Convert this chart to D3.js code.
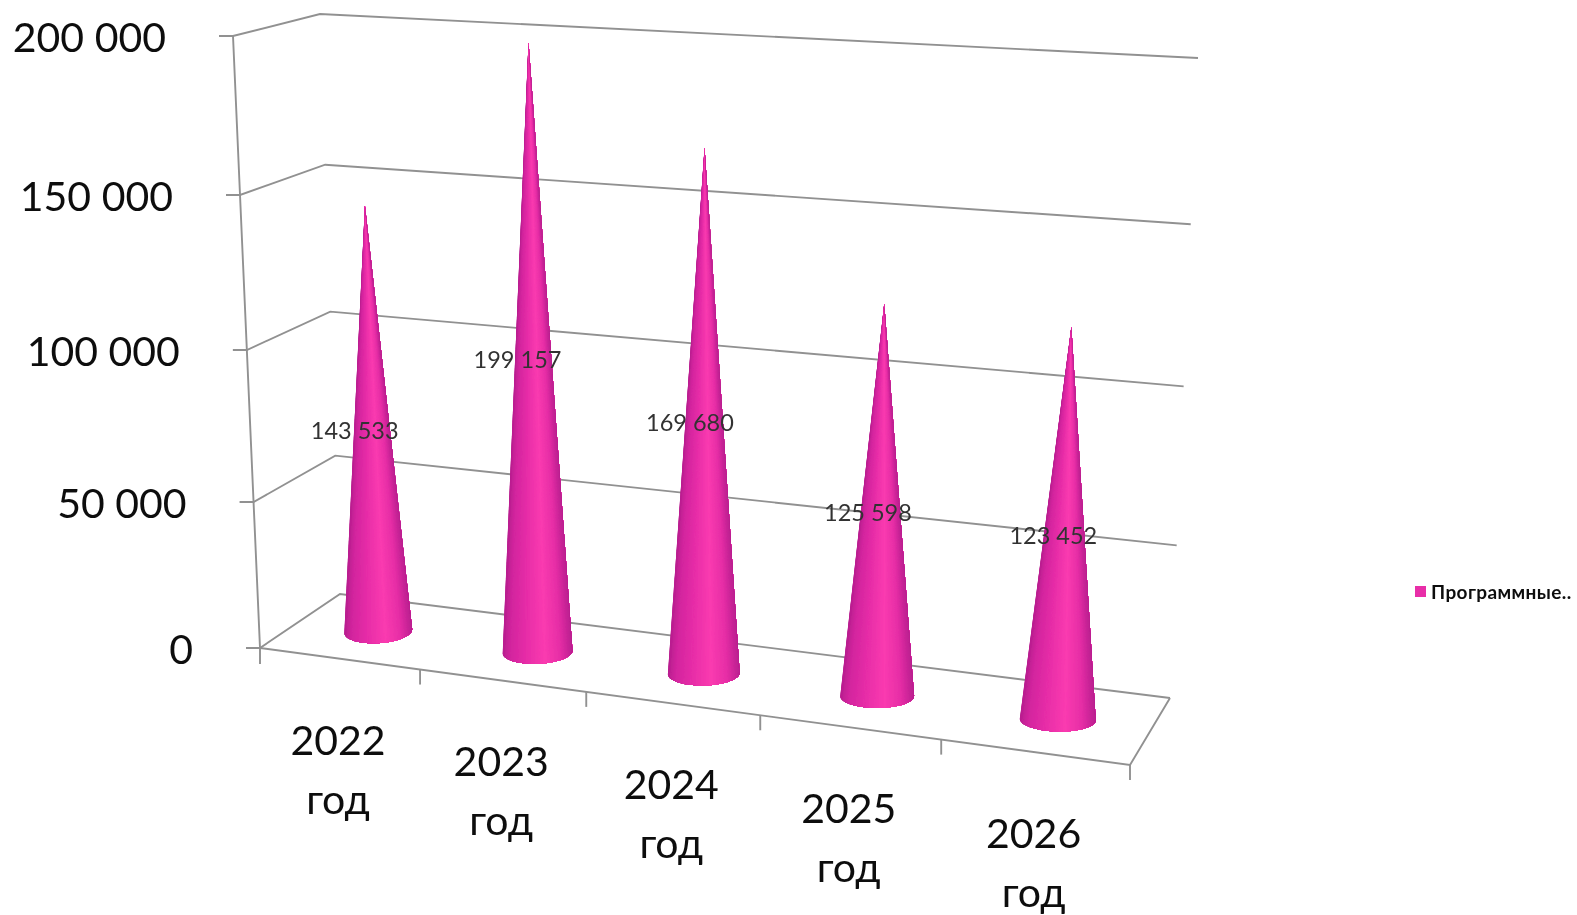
<!DOCTYPE html>
<html>
<head>
<meta charset="utf-8">
<script src="https://cdn.jsdelivr.net/npm/d3@7"></script>
<style>
  html, body { margin: 0; padding: 0; background: #fff; overflow: hidden; }
  text { font-family: Lato, "Noto Sans", sans-serif; }
</style>
</head>
<body>
<div id="chart"></div>
<script>
// Chart data
var years = ["2022", "2023", "2024", "2025", "2026"];
var yearWord = "год";
var values = [143533, 199157, 169680, 125598, 123452];
var valueTicks = [0, 50000, 100000, 150000, 200000];
var legendLabel = "Программные..";

var svgWidth = 1577;
var svgHeight = 915;

var root = d3.select("#chart")
  .append("svg")
  .attr("width", svgWidth)
  .attr("height", svgHeight);

// the source picture is a soft upscaled bitmap
root.append("filter")
  .attr("id", "soft")
  .attr("filterUnits", "userSpaceOnUse")
  .attr("x", 0).attr("y", 0)
  .attr("width", svgWidth).attr("height", svgHeight)
  .append("feGaussianBlur")
  .attr("stdDeviation", 0.6);

var svg = root.append("g").attr("filter", "url(#soft)");

// Box corners of the 3D plot: front/back, left/right, bottom/top
var box = {
  flb: [260, 648], flt: [233, 36],
  frb: [1130, 765], frt: [1158, 96],
  blb: [340, 594], blt: [320, 14],
  brb: [1170, 698], brt: [1198, 58]
};

// the chart is in perspective so neither scale is evenly spaced
var heightScale = d3.scaleLinear()
  .domain(valueTicks)
  .range([0, 0.2385, 0.4869, 0.7402, 1]);

var widthScale = d3.scaleLinear()
  .domain(d3.range(years.length + 1))
  .range([0, 0.184, 0.375, 0.575, 0.783, 1]);

function mix(a, b, t) {
  return [a[0] + (b[0] - a[0]) * t, a[1] + (b[1] - a[1]) * t];
}

// u along the width (0-1), d into the depth (0-1), value up the height
function project(u, d, value) {
  var t = heightScale(value);
  var bottom = mix(mix(box.flb, box.frb, u), mix(box.blb, box.brb, u), d);
  var top = mix(mix(box.flt, box.frt, u), mix(box.blt, box.brt, u), d);
  return mix(bottom, top, t);
}

function midU(i) {
  return (widthScale(i) + widthScale(i + 1)) / 2;
}

var format = d3.formatLocale({ decimal: ",", thousands: " ", grouping: [3], currency: ["", ""] }).format(",");

var line = d3.line();
var gridColor = "#919191";

// Gridlines on side and back wall
var grid = svg.append("g")
  .attr("fill", "none")
  .attr("stroke", gridColor)
  .attr("stroke-width", 1.9);

valueTicks.forEach(function(v) {
  var p = project(0, 0, v);
  grid.append("path").attr("d", line([[p[0] - 14, p[1]], p, project(0, 1, v), project(1, 1, v)]));
});

// Left edge and floor
grid.append("path").attr("d", line([project(0, 0, 200000), project(0, 0, 0), [box.flb[0], box.flb[1] + 16]]));
grid.append("path").attr("d", line([project(0, 0, 0), project(1, 0, 0), project(1, 1, 0)]));

widthScale.domain().slice(1).forEach(function(i) {
  var p = project(widthScale(i), 0, 0);
  grid.append("path").attr("d", line([p, [p[0], p[1] + 15]]));
});

// Y axis labels
svg.append("g")
  .selectAll("text")
  .data(valueTicks)
  .enter()
  .append("text")
  .attr("x", d => project(0, 0, d)[0] - 67)
  .attr("y", d => project(0, 0, d)[1] + 1)
  .attr("dy", "0.36em")
  .attr("text-anchor", "end")
  .attr("font-size", "41px")
  .attr("fill", "#111")
  .text(d => format(d));

// Category labels
var catGroup = svg.append("g")
  .selectAll("g")
  .data(years)
  .enter()
  .append("g")
  .attr("transform", function(d, i) {
    var p = project(midU(i), 0, 0);
    return `translate(${p[0] - 2}, ${p[1] + 81})`;
  })
  .attr("text-anchor", "middle")
  .attr("font-size", "41px")
  .attr("fill", "#111");

catGroup.append("text").attr("dy", "0.36em").text(d => d);
catGroup.append("text").attr("y", 59).attr("dy", "0.36em").text(yearWord);

// Shading across the cone: x is -1 at left edge, 1 at right edge
var shade = d3.scaleLinear()
  .domain([-1, -0.8, -0.3, 0.2, 0.65, 1])
  .range(["#b81e8f", "#d2259e", "#e82ea8", "#fa3bb0", "#e62ea6", "#bb1f90"])
  .interpolate(d3.interpolateRgb);

var radiusScale = d3.scaleLinear().domain([0, 1]).range([33.5, 38.5]);
var tiltScale = d3.scaleLinear().domain([0, 1]).range([-4, 2]);
var labelShift = d3.scaleLinear().domain([0, 1]).range([-17.5, -10.5]);
var baseRy = 12;

var cones = svg.append("g");

values.forEach(function(v, i) {
  var u = midU(i);
  var base = project(u, 0.5, 0);
  var tip = project(u, 0.5, v);
  var rx = radiusScale(u);
  var tilt = tiltScale(u) * Math.PI / 180;

  function rim(a) {
    var x = rx * Math.cos(a);
    var y = baseRy * Math.sin(a);
    return [base[0] + x * Math.cos(tilt) - y * Math.sin(tilt), base[1] + x * Math.sin(tilt) + y * Math.cos(tilt)];
  }

  // the visible half of the base, painted left to right so that each
  // wedge covers the rest of the cone and no seams show
  var steps = 70;
  var wedges = d3.range(steps).map(function(s) {
    var start = Math.PI - Math.PI * s / steps;
    var points = d3.range(s, steps + 1).map(k => rim(Math.PI - Math.PI * k / steps));
    return { points: points, x: Math.cos(start - Math.PI / steps / 2) };
  });

  cones.append("g")
    .selectAll("path")
    .data(wedges)
    .enter()
    .append("path")
    .attr("d", d => line([tip].concat(d.points)) + "Z")
    .attr("fill", d => shade(d.x));
});

// Value labels
svg.append("g")
  .selectAll("text")
  .data(values)
  .enter()
  .append("text")
  .attr("x", function(d, i) {
    var u = midU(i);
    return (project(u, 0.5, 0)[0] + project(u, 0.5, d)[0]) / 2 + labelShift(u);
  })
  .attr("y", function(d, i) {
    var u = midU(i);
    return (project(u, 0.5, 0)[1] + project(u, 0.5, d)[1]) / 2 + 12;
  })
  .attr("dy", "0.36em")
  .attr("text-anchor", "middle")
  .attr("font-size", "23.5px")
  .attr("fill", "#333")
  .text(d => format(d));

// Legend
svg.append("rect")
  .attr("x", 1415)
  .attr("y", 586)
  .attr("width", 11)
  .attr("height", 11)
  .attr("fill", shade(-0.3));

svg.append("text")
  .attr("x", 1431)
  .attr("y", 592)
  .attr("dy", "0.36em")
  .attr("font-size", "19px")
  .attr("font-weight", 700)
  .attr("letter-spacing", "0.4px")
  .attr("fill", "#111")
  .text(legendLabel);
</script>
</body>
</html>
